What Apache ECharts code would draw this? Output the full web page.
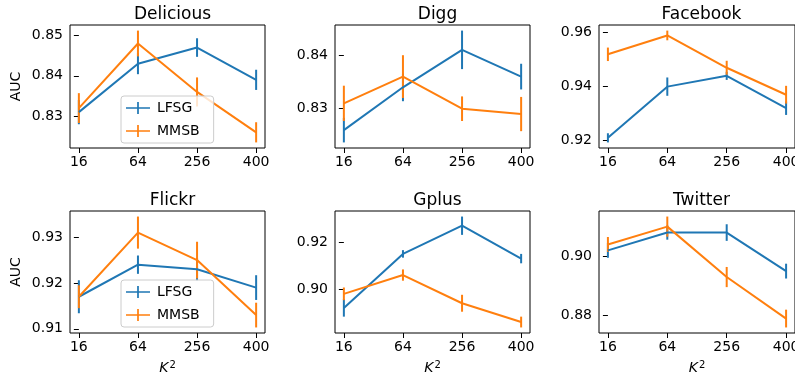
<!DOCTYPE html>
<html>
  <head>
    <meta charset="utf-8" />
    <title>AUC vs K^2</title>
    <script src="https://cdn.jsdelivr.net/npm/echarts@6/dist/echarts.min.js"></script>
  </head>
  <body style="margin:0">
    <div id="container" style="width:795px;height:378px;"></div>
    <script type="text/javascript">
    // x categories (K^2) and panel names
    var xLabels = ['16', '64', '256', '400'];
    var panels = ['Delicious', 'Digg', 'Facebook', 'Flickr', 'Gplus', 'Twitter'];

    // mean AUC per panel
    var lfsgMean = [
      [0.831, 0.843, 0.847, 0.839],
      [0.826, 0.834, 0.841, 0.836],
      [0.921, 0.940, 0.944, 0.932],
      [0.917, 0.924, 0.923, 0.919],
      [0.892, 0.915, 0.927, 0.913],
      [0.902, 0.908, 0.908, 0.895]
    ];
    var lfsgErr = [
      [0.0030, 0.0026, 0.0023, 0.0025],
      [0.0023, 0.0026, 0.0036, 0.0024],
      [0.0017, 0.0034, 0.0015, 0.0025],
      [0.0036, 0.0020, 0.0025, 0.0027],
      [0.0037, 0.0016, 0.0039, 0.0020],
      [0.0025, 0.0024, 0.0028, 0.0025]
    ];
    var mmsbMean = [
      [0.832, 0.848, 0.836, 0.826],
      [0.831, 0.836, 0.830, 0.829],
      [0.952, 0.959, 0.947, 0.937],
      [0.917, 0.931, 0.925, 0.913],
      [0.898, 0.906, 0.894, 0.886],
      [0.904, 0.910, 0.893, 0.879]
    ];
    var mmsbErr = [
      [0.0037, 0.0032, 0.0036, 0.0025],
      [0.0033, 0.0040, 0.0023, 0.0032],
      [0.0025, 0.0018, 0.0026, 0.0033],
      [0.0025, 0.0035, 0.0040, 0.0027],
      [0.0027, 0.0024, 0.0036, 0.0023],
      [0.0025, 0.0034, 0.0034, 0.0030]
    ];
    var yTicks = [
      [0.83, 0.84, 0.85],
      [0.83, 0.84],
      [0.92, 0.94, 0.96],
      [0.91, 0.92, 0.93],
      [0.90, 0.92],
      [0.88, 0.90]
    ];

    var BLUE = '#1f77b4', ORANGE = '#ff7f0e';
    var FONT = 'DejaVu Sans';
    var colLeft = [70, 335, 599];
    var rowTop = [25, 211];
    var plotW = 195, plotH = 123;
    var xIdx = [0, 1, 2, 3];

    var myChart = echarts.init(document.getElementById('container'));

    var grid = [], xAxis = [], yAxis = [], series = [], title = [];
    var legendIcon = 'path://M0,6 L28,6 L28,8 L0,8 Z M13,0 L15,0 L15,14 L13,14 Z';

    function errSeries(k, mean, err, color) {
      return {
        type: 'custom',
        xAxisIndex: k, yAxisIndex: k,
        silent: true,
        encode: { x: 0, y: [1, 2] },
        data: mean.map(function (v, i) { return [i, v - err[i], v + err[i]]; }),
        renderItem: function (params, api) {
          var p1 = api.coord([api.value(0), api.value(1)]);
          var p2 = api.coord([api.value(0), api.value(2)]);
          return {
            type: 'line',
            shape: { x1: p1[0], y1: p1[1], x2: p2[0], y2: p2[1] },
            style: { stroke: color, lineWidth: 2 }
          };
        }
      };
    }

    panels.forEach(function (name, k) {
      var row = Math.floor(k / 3), col = k % 3;
      // matplotlib-like 5% margin around data incl. error bars
      var lo = Infinity, hi = -Infinity;
      [[lfsgMean[k], lfsgErr[k]], [mmsbMean[k], mmsbErr[k]]].forEach(function (s) {
        s[0].forEach(function (v, i) {
          lo = Math.min(lo, v - s[1][i]);
          hi = Math.max(hi, v + s[1][i]);
        });
      });
      var pad = (hi - lo) * 0.05;

      grid.push({
        left: colLeft[col], top: rowTop[row], width: plotW + (col === 2 ? 1 : 0), height: plotH - row,
        outerBoundsMode: 'none',
        show: true, borderColor: '#000', borderWidth: 1, backgroundColor: 'transparent'
      });
      title.push({
        text: name,
        left: colLeft[col] + plotW / 2, top: rowTop[row] - 24,
        textAlign: 'center',
        textStyle: { fontFamily: FONT, fontSize: 17, fontWeight: 'normal', color: '#000' }
      });
      xAxis.push({
        type: 'value', gridIndex: k, min: -0.15, max: 3.15,
        splitLine: { show: false },
        axisLine: { show: false },
        axisTick: { show: true, length: 5, customValues: xIdx, lineStyle: { color: '#000' } },
        axisLabel: {
          customValues: xIdx, margin: 7, hideOverlap: false,
          fontFamily: FONT, fontSize: 14, color: '#000',
          formatter: function (v) { return xLabels[Math.round(v)]; }
        },
        name: row === 1 ? '{k|K}{s|2}' : '',
        nameLocation: 'middle', nameGap: 27,
        nameTextStyle: {
          fontFamily: FONT, color: '#000',
          rich: {
            k: { fontFamily: FONT, fontSize: 14, fontStyle: 'italic', color: '#000' },
            s: { fontFamily: FONT, fontSize: 10, color: '#000', verticalAlign: 'bottom', padding: [0, 0, 7, 1] }
          }
        }
      });
      yAxis.push({
        type: 'value', gridIndex: k, min: lo - pad, max: hi + pad,
        splitLine: { show: false },
        axisLine: { show: false },
        axisTick: { show: true, length: 5, customValues: yTicks[k], lineStyle: { color: '#000' } },
        axisLabel: {
          customValues: yTicks[k], margin: 7,
          fontFamily: FONT, fontSize: 14, color: '#000',
          formatter: function (v) { return v.toFixed(2); }
        },
        name: col === 0 ? 'AUC' : '',
        nameLocation: 'middle', nameGap: 47,
        nameTextStyle: { fontFamily: FONT, fontSize: 14, color: '#000' }
      });

      series.push({
        name: 'LFSG', type: 'line', xAxisIndex: k, yAxisIndex: k,
        data: lfsgMean[k].map(function (v, i) { return [i, v]; }),
        showSymbol: false, color: BLUE, lineStyle: { width: 2, color: BLUE }
      });
      series.push(errSeries(k, lfsgMean[k], lfsgErr[k], BLUE));
      series.push({
        name: 'MMSB', type: 'line', xAxisIndex: k, yAxisIndex: k,
        data: mmsbMean[k].map(function (v, i) { return [i, v]; }),
        showSymbol: false, color: ORANGE, lineStyle: { width: 2, color: ORANGE }
      });
      series.push(errSeries(k, mmsbMean[k], mmsbErr[k], ORANGE));
    });

    function makeLegend(top) {
      return {
        orient: 'vertical', left: 121, top: top,
        padding: [5, 14, 5, 5],
        itemWidth: 28, itemHeight: 12, itemGap: 9,
        backgroundColor: 'rgba(255,255,255,0.8)',
        borderColor: '#cccccc', borderWidth: 1, borderRadius: 3,
        textStyle: { fontFamily: FONT, fontSize: 14, color: '#000' },
        data: [
          { name: 'LFSG', icon: legendIcon, itemStyle: { color: BLUE } },
          { name: 'MMSB', icon: legendIcon, itemStyle: { color: ORANGE } }
        ]
      };
    }

    var option = {
      animation: false,
      backgroundColor: '#fff',
      title: title,
      grid: grid,
      xAxis: xAxis,
      yAxis: yAxis,
      legend: [makeLegend(96), makeLegend(280)],
      series: series
    };
    myChart.setOption(option);
    window.addEventListener('resize', myChart.resize);
    </script>
  </body>
</html>
